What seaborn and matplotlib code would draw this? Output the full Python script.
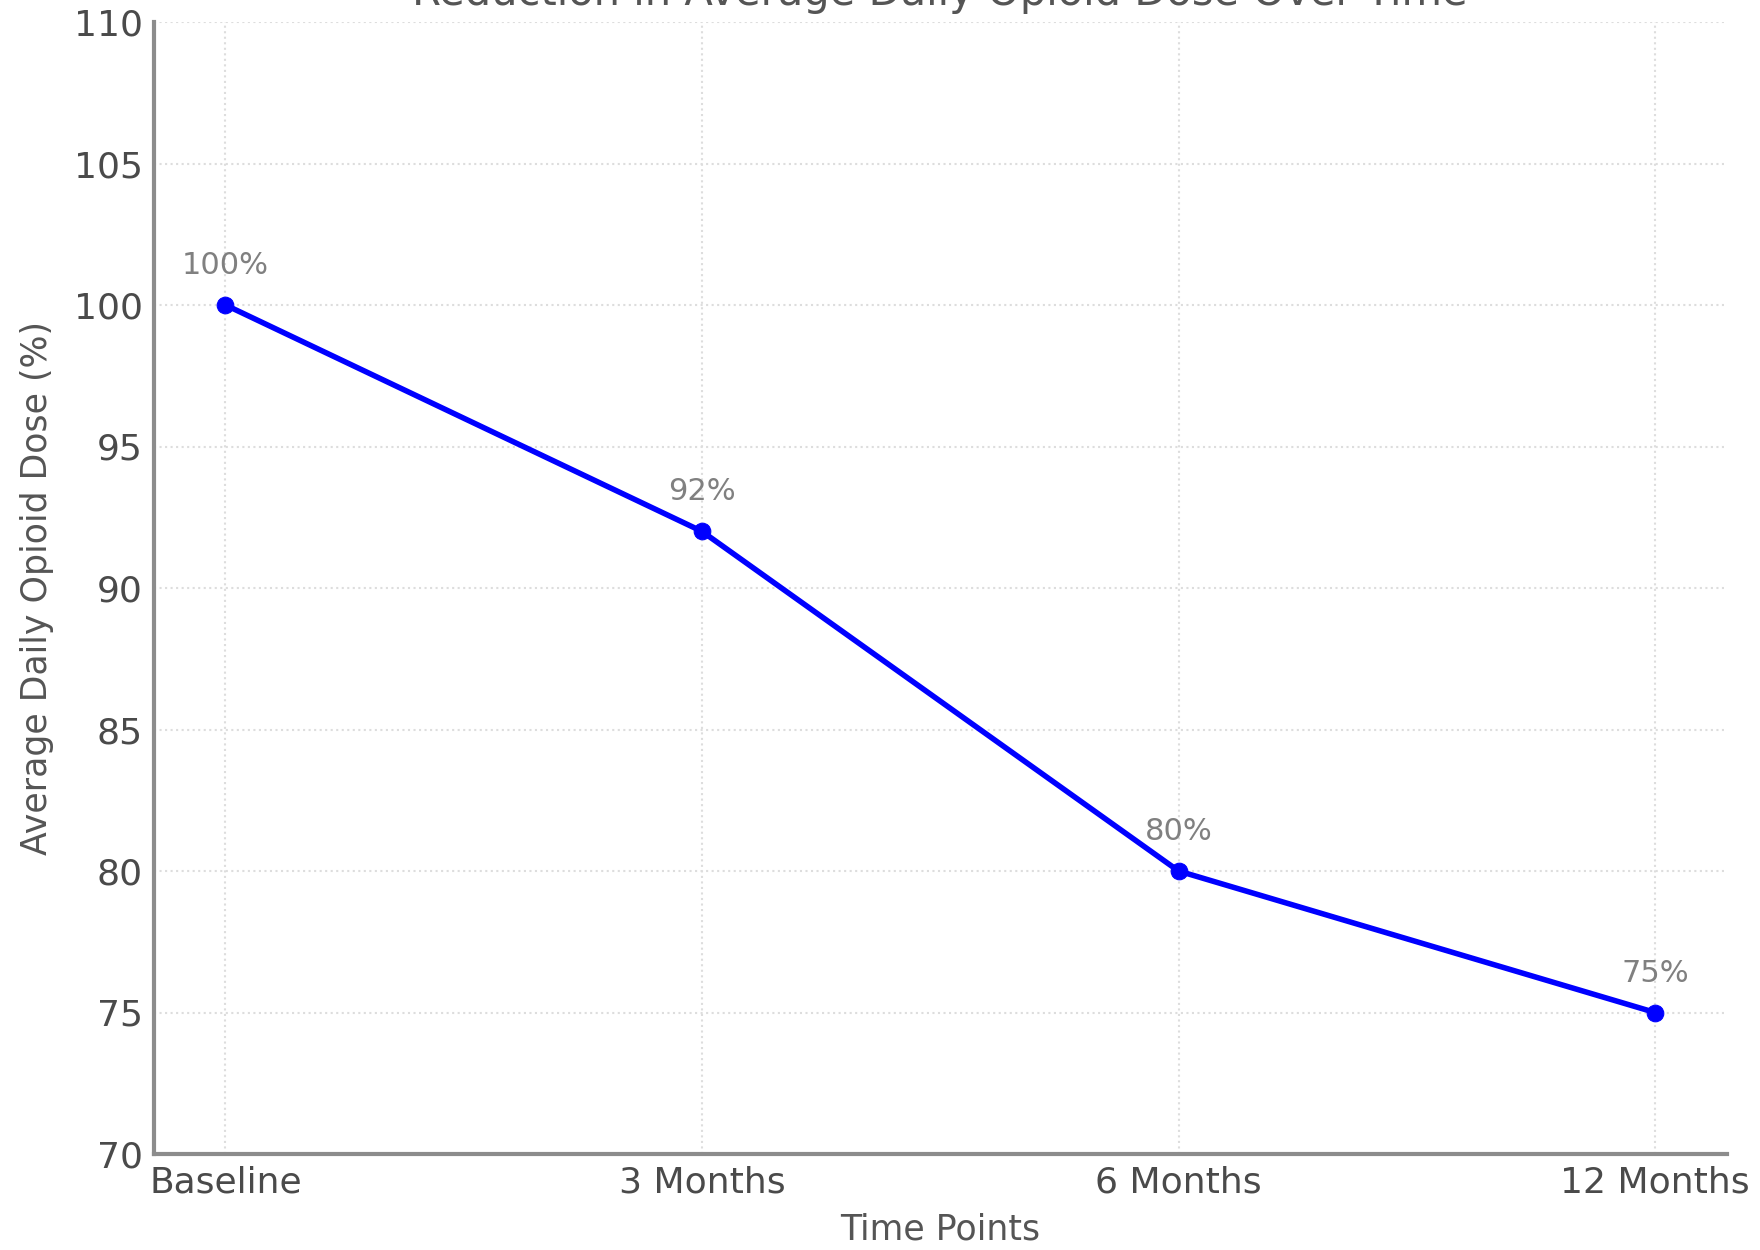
import matplotlib
matplotlib.use("Agg")
import matplotlib.pyplot as plt
import pandas as pd
import seaborn as sns

# data
time_points = ["Baseline", "3 Months", "6 Months", "12 Months"]
dose_pct = [100, 92, 80, 75]
y_ticks = [70, 75, 80, 85, 90, 95, 100, 105, 110]

df = pd.DataFrame({"time": time_points, "dose": dose_pct})

sns.set_style("white")
plt.rcParams["font.family"] = ["DejaVu Sans"]

fig = plt.figure(figsize=(17.6, 12.5), dpi=100)
ax = fig.add_axes([0.0875, 0.0768, 0.8935, 0.9056])

sns.lineplot(data=df, x="time", y="dose", ax=ax, color="blue",
             linewidth=4, marker="o", markersize=12,
             markeredgecolor="blue", sort=False)

for i, v in enumerate(dose_pct):
    ax.annotate(f"{v}%", (i, v), xytext=(0, 18), textcoords="offset points",
                ha="center", va="bottom", fontsize=22, color="#808080")

ax.set_ylim(70, 110)
ax.set_yticks(y_ticks)
ax.set_xlim(-0.15, 3.15)

ax.grid(True, linestyle=":", color="#dddddd", linewidth=1.5)
for side in ["top", "right"]:
    ax.spines[side].set_visible(False)
for side in ["left", "bottom"]:
    ax.spines[side].set_color("#8c8c8c")
    ax.spines[side].set_linewidth(3)

ax.tick_params(axis="both", direction="in", length=6, width=1.5,
               color="#8c8c8c", labelsize=26, labelcolor="#4a4a4a", pad=8)

ax.set_title("Reduction in Average Daily Opioid Dose Over Time",
             fontsize=30, color="#555555", pad=12)
ax.set_xlabel("Time Points", fontsize=25, color="#555555", labelpad=10)
ax.set_ylabel("Average Daily Opioid Dose (%)", fontsize=25,
              color="#555555", labelpad=14)

fig.savefig("out.png", dpi=100)
